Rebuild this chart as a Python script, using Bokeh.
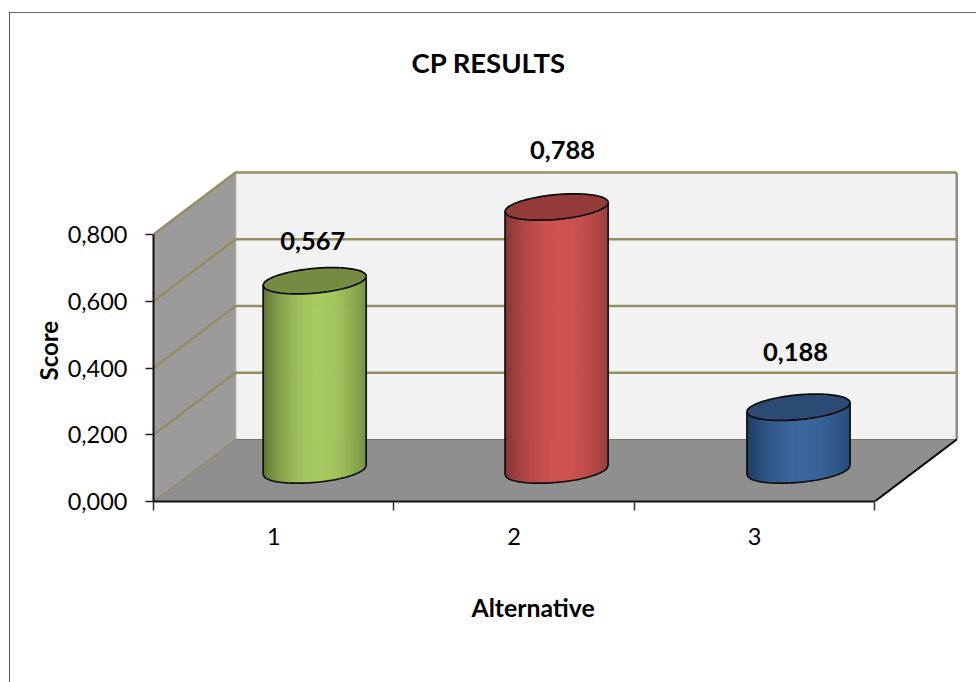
import numpy as np
from bokeh.core.properties import value
from bokeh.embed import file_html
from bokeh.models import FixedTicker, InlineStyleSheet, Range1d, Title
from bokeh.plotting import figure
from bokeh.resources import INLINE

# Chart content
alternatives = [1, 2, 3]
scores = [0.567, 0.788, 0.188]
score_labels = ["0,567", "0,788", "0,188"]
y_ticks = [0.0, 0.2, 0.4, 0.6, 0.8]
y_tick_labels = ["0,000", "0,200", "0,400", "0,600", "0,800"]

# Cylinder shading: edge, highlight and cap colour of each bar
edge_colors = [(92, 112, 52), (126, 52, 50), (30, 58, 98)]
light_colors = [(167, 203, 96), (206, 83, 81), (58, 102, 156)]
cap_colors = ["#748B41", "#923B3A", "#2B4A74"]

# Scale of the plot area, in pixels per unit
PX_X = 240.4
PX_Y = 333.75
DEPTH_X = 82 / PX_X
DEPTH_Y = 62 / PX_Y
RADIUS_X = 51.5 / PX_X
RADIUS_Y = 12.4 / PX_Y
TILT = 4.5 / PX_Y
BASE_Y = 31.5 / PX_Y
BAR_SHIFT = [0 / PX_X, 1.5 / PX_X, 3 / PX_X]
LABEL_RAISE = [40 / PX_Y, 57 / PX_Y, 55 / PX_Y]
LABEL_SHIFT = [-2 / PX_X, 7.5 / PX_X, 0 / PX_X]

FONT = "Lato"
WALL_LINE = "#948E62"

x_start, x_end = 0.5, 0.5 + 823 / PX_X
y_start, y_end = 0.0, 401 / PX_Y
X0, X1 = 0.5, 3.5
TOP = 0.8

p = figure(
    width=976, height=682,
    x_range=Range1d(x_start, x_end), y_range=Range1d(y_start, y_end),
    output_backend="svg", toolbar_location=None,
    min_border_left=153, min_border_right=0, min_border_top=100, min_border_bottom=181,
    background_fill_color="white", border_fill_color="white", outline_line_color=None,
)
p.grid.visible = False

# Chart border, open at the page's right and bottom
p.stylesheets = [InlineStyleSheet(css="""
:host::after {
  content: ""; position: absolute; left: 9px; top: 12px; right: 0; bottom: 0;
  border-left: 1.5px solid #555555; border-top: 1.5px solid #6A6A6A;
  pointer-events: none;
}
""")]

p.title = Title(text="CP RESULTS", align="left", offset=258, standoff=44,
                text_font=FONT, text_font_size="27.5px", text_font_style="bold",
                text_color="black")

# Walls and floor of the box
p.patch([X0, X0 + DEPTH_X, X1 + DEPTH_X, X1],
        [0, DEPTH_Y, DEPTH_Y, 0], fill_color="#8F8F8F", line_color=None)
p.patch([X0, X0 + DEPTH_X, X0 + DEPTH_X, X0],
        [0, DEPTH_Y, TOP + DEPTH_Y, TOP], fill_color="#9B9B9B", line_color=None)
p.patch([X0 + DEPTH_X, X1 + DEPTH_X, X1 + DEPTH_X, X0 + DEPTH_X],
        [DEPTH_Y, DEPTH_Y, TOP + DEPTH_Y, TOP + DEPTH_Y], fill_color="#F2F2F2", line_color=None)

p.line([X0 + DEPTH_X, X0 + DEPTH_X], [DEPTH_Y, TOP + DEPTH_Y], line_color="#A5A5A0", line_width=1.5)
p.line([X1 + DEPTH_X, X1 + DEPTH_X], [DEPTH_Y, TOP + DEPTH_Y], line_color="#8E8E8E", line_width=2.5)

# Grid lines run along the left wall and across the back wall
for tick in y_ticks:
    if tick == 0:
        p.line([X0, X0 + DEPTH_X], [0, DEPTH_Y], line_color=WALL_LINE, line_width=1.5)
        p.line([X0 + DEPTH_X, X1 + DEPTH_X], [DEPTH_Y, DEPTH_Y], line_color="#77765F", line_width=1.2)
    else:
        p.line([X0, X0 + DEPTH_X, X1 + DEPTH_X],
               [tick, tick + DEPTH_Y, tick + DEPTH_Y], line_color=WALL_LINE, line_width=2.5)

p.line([X1, X1 + DEPTH_X], [0, DEPTH_Y], line_color="black", line_width=2)

# Cylinders: shaded strips for the side, an outline and a darker cap
angles = np.linspace(0, 2 * np.pi, 121)
strip_edges = np.linspace(-1, 1, 104)

for alt, shift, score, edge, light, cap in zip(alternatives, BAR_SHIFT, scores, edge_colors, light_colors, cap_colors):
    cx = alt + DEPTH_X / 2 + shift
    base = BASE_Y
    top = BASE_Y + score

    xs, ys, colors = [], [], []
    for u0, u1 in zip(strip_edges[:-1], strip_edges[1:]):
        us = np.linspace(u0, u1, 4)
        front = TILT * us - RADIUS_Y * np.sqrt(np.clip(1 - us ** 2, 0, 1))
        xs.append(list(cx + RADIUS_X * us) + list(cx + RADIUS_X * us[::-1]))
        ys.append(list(top + front) + list(base + front[::-1]))
        mid = (u0 + u1) / 2
        # highlight sits slightly right of the axis
        blend = np.cos(np.clip((mid - 0.1) / 1.1, -1, 1) * np.pi / 2) ** 0.8
        rgb = tuple(int(round(e + (l - e) * blend)) for e, l in zip(edge, light))
        colors.append("#%02x%02x%02x" % rgb)
    p.patches(xs, ys, fill_color=colors, line_color=colors, line_width=1)

    us = np.linspace(-1, 1, 81)
    outline_x = [cx - RADIUS_X] + list(cx + RADIUS_X * us) + [cx + RADIUS_X]
    bottom = base + TILT * us - RADIUS_Y * np.sqrt(1 - us ** 2)
    outline_y = [top - TILT] + list(bottom) + [top + TILT]
    p.line(outline_x, outline_y, line_color="#111111", line_width=1.7)

    p.patch(cx + RADIUS_X * np.cos(angles),
            top + TILT * np.cos(angles) + RADIUS_Y * np.sin(angles),
            fill_color=cap, line_color="#0A0A0A", line_width=1.7)

# Value labels above the bars
p.text(
    x=[a + DEPTH_X / 2 + s for a, s in zip(alternatives, LABEL_SHIFT)],
    y=[BASE_Y + v + r for v, r in zip(scores, LABEL_RAISE)],
    text=score_labels, text_align="center", text_baseline="middle",
    text_font=value(FONT), text_font_size="25.5px", text_font_style="bold", text_color="black",
)

# Value axis
p.yaxis.bounds = (0, TOP)
p.yaxis.ticker = FixedTicker(ticks=y_ticks)
p.yaxis.major_label_overrides = dict(zip(y_ticks, y_tick_labels))
p.yaxis.major_tick_out = 8
p.yaxis.major_tick_in = 0
p.yaxis.minor_tick_line_color = None
p.yaxis.major_tick_line_color = "#222222"
p.yaxis.major_tick_line_width = 1.5
p.yaxis.axis_line_color = "#111111"
p.yaxis.axis_line_width = 2
p.yaxis.major_label_standoff = 18
p.yaxis.major_label_text_font = FONT
p.yaxis.major_label_text_font_size = "23.5px"
p.yaxis.major_label_text_color = "black"

# Category axis: labels on the categories, ticks between them
p.xaxis.bounds = (X0, X1)
p.xaxis.ticker = FixedTicker(ticks=alternatives, minor_ticks=[0.5, 1.5, 2.5, 3.5])
p.xaxis.major_tick_line_color = None
p.xaxis.major_tick_in = 0
p.xaxis.major_tick_out = 0
p.xaxis.minor_tick_in = 0
p.xaxis.minor_tick_out = 9
p.xaxis.minor_tick_line_color = "#333333"
p.xaxis.minor_tick_line_width = 1.5
p.xaxis.axis_line_color = "#111111"
p.xaxis.axis_line_width = 2
p.xaxis.major_label_standoff = 17
p.xaxis.major_label_text_font = FONT
p.xaxis.major_label_text_font_size = "23.5px"
p.xaxis.major_label_text_color = "black"

# Axis names
p.add_layout(Title(text="Alternative", align="left", offset=318, standoff=87,
                   text_font=FONT, text_font_size="24.8px", text_font_style="bold",
                   text_color="black"), "below")
p.add_layout(Title(text="Score", align="left", offset=121, standoff=4,
                   text_font=FONT, text_font_size="24px", text_font_style="bold",
                   text_color="black"), "left")

open("out.html", "w").write(file_html(p, INLINE))
